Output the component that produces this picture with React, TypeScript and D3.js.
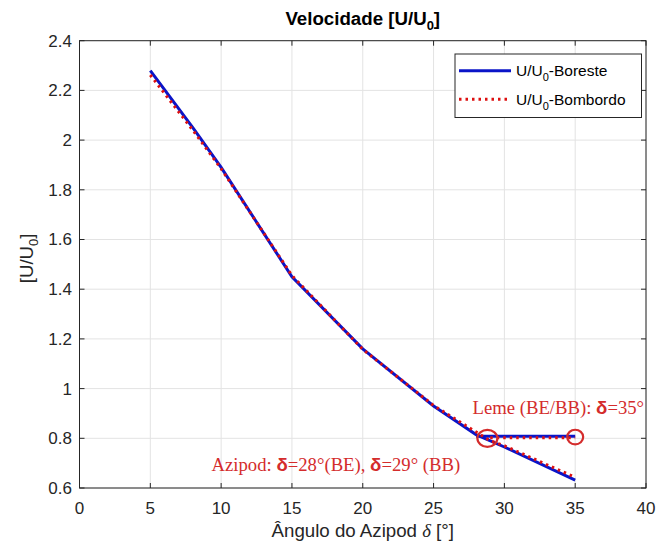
import React from "react";
import * as d3 from "d3";

// Azipod angle (degrees) and relative speed U/U0 for each side
const anglesBoreste = [5, 8, 10, 15, 20, 25, 28, 30, 35];
const speedBoreste = [2.28, 2.05, 1.89, 1.45, 1.16, 0.93, 0.815, 0.765, 0.632];
const anglesBombordo = [5, 8, 10, 15, 20, 25, 29, 30, 35];
const speedBombordo = [2.262, 2.04, 1.885, 1.455, 1.158, 0.932, 0.79, 0.77, 0.643];

// Rudder (Leme) reference segments: constant speed from the crossing angle to 35°
const lemeAnglesBoreste = [28, 35];
const lemeSpeedBoreste = [0.808, 0.808];
const lemeAnglesBombordo = [29, 35];
const lemeSpeedBombordo = [0.802, 0.802];

// Highlighted points
const markAngles = [28.8, 35];
const markSpeeds = [0.8, 0.805];

const xTicks = [0, 5, 10, 15, 20, 25, 30, 35, 40];
const yTicks = [0.6, 0.8, 1, 1.2, 1.4, 1.6, 1.8, 2, 2.2, 2.4];

const W = 658;
const H = 546;
const left = 79.5;
const right = 646;
const top = 40.7;
const bottom = 488;

const axisColor = "#262626";
const blue = "#0a14c8";
const red = "#dd1010";
const annot = "#d42c2c";
const sans = "'Liberation Sans', Arial, Helvetica, sans-serif";
const serif = "'Liberation Serif', 'Times New Roman', serif";

export default function App() {
  const x = d3.scaleLinear().domain([0, 40]).range([left, right]);
  const y = d3.scaleLinear().domain([0.6, 2.4]).range([bottom, top]);
  const line = d3
    .line<[number, number]>()
    .x((d) => x(d[0]))
    .y((d) => y(d[1]));

  const zip = (a: number[], b: number[]) => a.map((v, i) => [v, b[i]] as [number, number]);

  const tickLen = 5;
  const lx = 459;
  const lx2 = 511;

  return (
    <svg width={W} height={H} style={{ position: "absolute", left: 0, top: 0, background: "#fff" }}>
      <rect x={0} y={0} width={W} height={H} fill="#fff" />
      {/* grid */}
      {xTicks.map((t) => (
        <line key={"gx" + t} x1={x(t)} x2={x(t)} y1={top} y2={bottom} stroke="#e3e3e3" strokeWidth={1} />
      ))}
      {yTicks.map((t) => (
        <line key={"gy" + t} x1={left} x2={right} y1={y(t)} y2={y(t)} stroke="#e3e3e3" strokeWidth={1} />
      ))}

      {/* series */}
      <path d={line(zip(anglesBoreste, speedBoreste)) || ""} fill="none" stroke={blue} strokeWidth={3} />
      <path d={line(zip(lemeAnglesBoreste, lemeSpeedBoreste)) || ""} fill="none" stroke={blue} strokeWidth={3} />
      <path
        d={line(zip(anglesBombordo, speedBombordo)) || ""}
        fill="none"
        stroke={red}
        strokeWidth={3}
        strokeDasharray="2.5 4"
      />
      <path
        d={line(zip(lemeAnglesBombordo, lemeSpeedBombordo)) || ""}
        fill="none"
        stroke={red}
        strokeWidth={3}
        strokeDasharray="2.5 4"
      />

      {/* highlight rings */}
      <ellipse cx={x(markAngles[0])} cy={y(markSpeeds[0])} rx={10} ry={8.5} fill="none" stroke={annot} strokeWidth={2.2} />
      <ellipse cx={x(markAngles[1])} cy={y(markSpeeds[1])} rx={8} ry={7.3} fill="none" stroke={annot} strokeWidth={2.2} />

      {/* annotations */}
      <text x={472.5} y={413.5} fontFamily={serif} fontSize={18.7} fill={annot}>
        Leme (BE/BB):{" "}
        <tspan fontFamily={sans} fontWeight="bold">δ</tspan>=35°
      </text>
      <text x={211.5} y={470.5} fontFamily={serif} fontSize={18.7} fill={annot}>
        Azipod: <tspan fontFamily={sans} fontWeight="bold">δ</tspan>=28°(BE),{" "}
        <tspan fontFamily={sans} fontWeight="bold">δ</tspan>=29° (BB)
      </text>

      {/* frame and ticks */}
      <rect x={left} y={top} width={right - left} height={bottom - top} fill="none" stroke={axisColor} strokeWidth={1} />
      {xTicks.map((t) => (
        <g key={"tx" + t}>
          <line x1={x(t)} x2={x(t)} y1={bottom} y2={bottom - tickLen} stroke={axisColor} />
          <line x1={x(t)} x2={x(t)} y1={top} y2={top + tickLen} stroke={axisColor} />
          <text x={x(t)} y={514} textAnchor="middle" fontFamily={sans} fontSize={17} fill={axisColor}>
            {t}
          </text>
        </g>
      ))}
      {yTicks.map((t) => (
        <g key={"ty" + t}>
          <line x1={left} x2={left + tickLen} y1={y(t)} y2={y(t)} stroke={axisColor} />
          <line x1={right} x2={right - tickLen} y1={y(t)} y2={y(t)} stroke={axisColor} />
          <text x={72} y={y(t)} dy="0.35em" textAnchor="end" fontFamily={sans} fontSize={17} fill={axisColor}>
            {t}
          </text>
        </g>
      ))}

      {/* legend */}
      <rect x={455} y={54} width={186.5} height={63.5} fill="#fff" stroke={axisColor} strokeWidth={1} />
      <line x1={lx} x2={lx2} y1={70.7} y2={70.7} stroke={blue} strokeWidth={3} />
      <line x1={lx} x2={lx2} y1={99.3} y2={99.3} stroke={red} strokeWidth={3} strokeDasharray="2.5 4" />
      <text x={516} y={76} fontFamily={sans} fontSize={15.5} fill="#000">
        U/U<tspan fontSize={11} dy={5}>0</tspan>
        <tspan dy={-5}>-Boreste</tspan>
      </text>
      <text x={516} y={104.5} fontFamily={sans} fontSize={15.5} fill="#000">
        U/U<tspan fontSize={11} dy={5}>0</tspan>
        <tspan dy={-5}>-Bombordo</tspan>
      </text>

      {/* title */}
      <text x={(left + right) / 2} y={25} textAnchor="middle" fontFamily={sans} fontSize={18.7} fontWeight="bold" fill="#000">
        Velocidade [U/U<tspan fontSize={13} dy={5}>0</tspan>
        <tspan dy={-5}>]</tspan>
      </text>

      {/* axis labels */}
      <text x={(left + right) / 2} y={537} textAnchor="middle" fontFamily={sans} fontSize={18.7} fill={axisColor}>
        Ângulo do Azipod <tspan fontFamily={serif} fontStyle="italic">δ</tspan> [°]
      </text>
      <text
        transform={`translate(33,${(top + bottom) / 2 - 6}) rotate(-90)`}
        textAnchor="middle"
        fontFamily={sans}
        fontSize={18.7}
        fill={axisColor}
      >
        [U/U<tspan fontSize={13} dy={5}>0</tspan>
        <tspan dy={-5}>]</tspan>
      </text>
    </svg>
  );
}
